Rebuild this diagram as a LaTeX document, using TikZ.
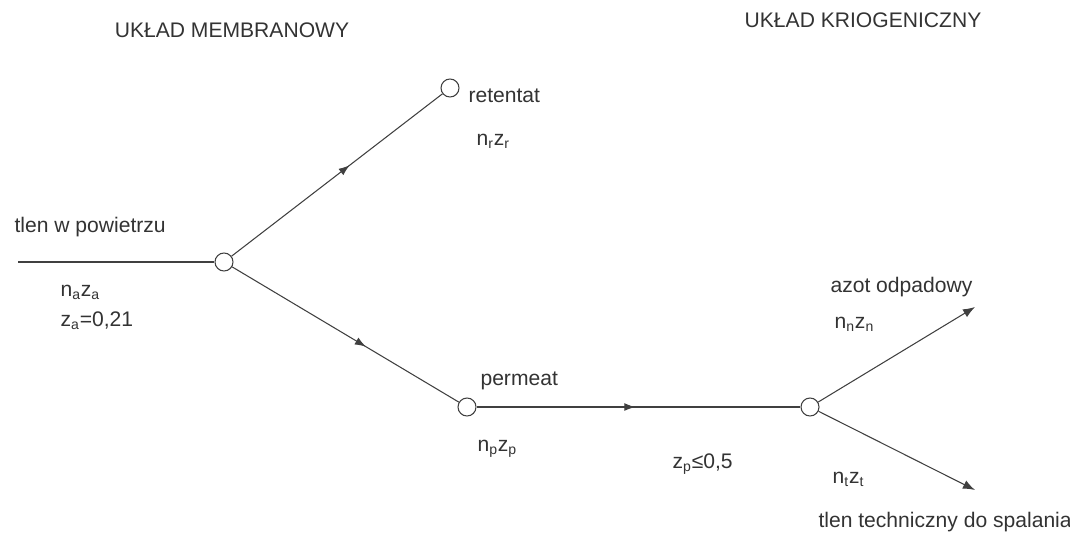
\documentclass[tikz,border=0pt]{standalone}
\usepackage{fontspec}
\setmainfont{Liberation Sans}
\usetikzlibrary{arrows.meta,decorations.markings}

\newcommand{\flow}[1]{n\textsubscript{#1}z\textsubscript{#1}}

\tikzset{
  junction/.style={circle,draw,fill=white,minimum size=0.36cm,inner sep=0pt},
  midarrow/.style={postaction={decorate},
    decoration={markings,mark=at position #1 with {\arrow{Latex[length=2.2mm,width=1.6mm]}}}},
  endarrow/.style={-{Latex[length=2.4mm,width=1.8mm]}},
  lbl/.style={anchor=west,inner sep=0pt,text=black!80},
  title/.style={inner sep=0pt,text=black!80},
}

\begin{document}
\begin{tikzpicture}[x=0.02cm,y=-0.02cm,line width=0.6pt,draw=black!75,
  every node/.style={font=\fontsize{12}{14}\selectfont}]
\useasboundingbox (0,0) rectangle (1070,534);

% the two parts of the plant
\node[title] (memb) at (232,30) {UKŁAD MEMBRANOWY};
\node[title] (krio) at (863,20) {UKŁAD KRIOGENICZNY};

% junctions
\node[junction] (split) at (224,262) {};
\node[junction] (ret) at (450,88) {};
\node[junction] (perm) at (467,407) {};
\node[junction] (cryo) at (810,407) {};
\coordinate (feed) at (18,262);
\coordinate (azot) at (975,307);
\coordinate (tlen) at (975,490);

% streams
\draw (feed) -- (split);
\draw[midarrow=0.56] (split) -- (ret);
\draw[midarrow=0.59] (split) -- (perm);
\draw[midarrow=0.49] (perm) -- (cryo);
\draw[endarrow] (cryo) -- (azot);
\draw[endarrow] (cryo) -- (tlen);

% labels
\node[lbl] (feedlbl) at (14,227) {tlen w powietrzu};
\node[lbl] (na) at (60,292) {\flow{a}};
\node[lbl] (za) at (60,321) {z\textsubscript{a}=0,21};
\node[lbl] (retlbl) at (468,96) {retentat};
\node[lbl] (nr) at (476,141) {\flow{r}};
\node[lbl] (permlbl) at (480,381) {permeat};
\node[lbl] (np) at (477,449) {\flow{p}};
\node[lbl] (zp) at (672,464) {z\textsubscript{p}≤0,5};
\node[lbl] (azotlbl) at (830,287) {azot odpadowy};
\node[lbl] (nn) at (834,324) {\flow{n}};
\node[lbl] (nt) at (832,479) {\flow{t}};
\node[lbl] (tlenlbl) at (818,522) {tlen techniczny do spalania};
\end{tikzpicture}
\end{document}
